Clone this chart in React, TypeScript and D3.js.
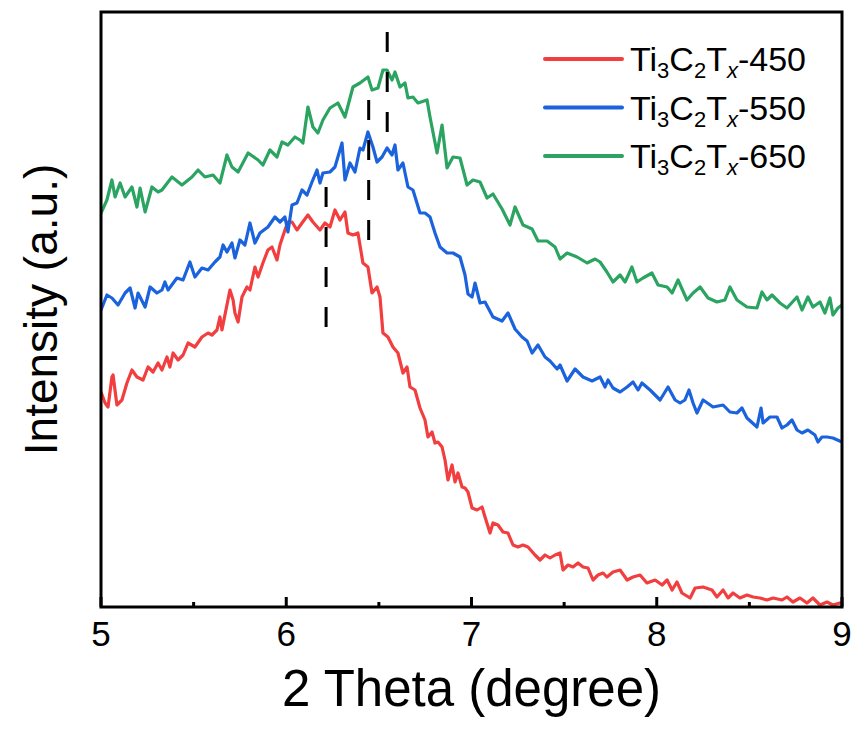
import React from 'react';
import * as d3 from 'd3';

const W = 853;
const H = 737;

const xTicks = [5, 6, 7, 8, 9];
const xMinorTicks = [5.5, 6.5, 7.5, 8.5];
const seriesLabels = ['450', '550', '650'];
const seriesColors = ['#f23e3e', '#1b63dc', '#2ba462'];
// [theta, intensity from, intensity to]
const peakLines: [number, number, number][] = [
  [6.215, 275, 420],
  [6.445, 362, 507],
  [6.545, 474, 575],
];

const s450: [number, number][] = [
  [5.0, 215], [5.022, 204], [5.038, 200], [5.059, 230], [5.065, 232], [5.086, 202], [5.113, 207],
  [5.14, 224], [5.167, 237], [5.194, 230], [5.227, 227], [5.254, 240], [5.281, 235], [5.308, 244],
  [5.329, 237], [5.356, 250], [5.372, 240], [5.389, 254], [5.416, 247], [5.443, 252], [5.47, 264],
  [5.507, 260], [5.545, 270], [5.578, 274], [5.599, 272], [5.626, 277], [5.642, 290], [5.653, 277],
  [5.669, 292], [5.696, 317], [5.713, 307], [5.723, 294], [5.74, 285], [5.761, 310], [5.788, 320],
  [5.804, 317], [5.831, 340], [5.848, 330], [5.874, 344], [5.901, 357], [5.923, 360], [5.95, 347],
  [5.966, 362], [5.993, 377], [6.009, 385], [6.031, 385], [6.058, 377], [6.085, 384], [6.117, 392],
  [6.144, 385], [6.182, 377], [6.209, 384], [6.236, 380], [6.263, 397], [6.29, 387], [6.317, 395],
  [6.333, 374], [6.36, 372], [6.387, 374], [6.414, 344], [6.441, 340], [6.463, 314], [6.49, 320],
  [6.506, 310], [6.522, 274], [6.549, 270], [6.576, 260], [6.603, 254], [6.63, 234], [6.652, 240],
  [6.668, 220], [6.695, 217], [6.722, 199], [6.749, 187], [6.765, 170], [6.787, 175], [6.803, 164],
  [6.819, 165], [6.841, 160], [6.857, 147], [6.873, 127], [6.895, 142], [6.911, 125], [6.927, 134],
  [6.949, 120], [6.965, 119], [6.981, 115], [7.003, 99], [7.03, 97], [7.057, 100], [7.073, 90],
  [7.1, 74], [7.116, 84], [7.143, 82], [7.17, 75], [7.197, 74], [7.224, 62], [7.251, 60],
  [7.278, 62], [7.305, 60], [7.343, 52], [7.37, 47], [7.397, 52], [7.424, 49], [7.451, 52],
  [7.478, 54], [7.494, 37], [7.521, 42], [7.548, 40], [7.575, 44], [7.602, 40], [7.629, 39],
  [7.656, 27], [7.683, 32], [7.71, 34], [7.731, 30], [7.764, 35], [7.802, 37], [7.84, 27],
  [7.872, 30], [7.91, 32], [7.947, 24], [7.991, 27], [8.029, 22], [8.056, 27], [8.083, 17],
  [8.109, 25], [8.136, 14], [8.18, 9], [8.207, 19], [8.25, 20], [8.298, 17], [8.325, 10],
  [8.358, 17], [8.385, 9], [8.412, 14], [8.449, 9], [8.487, 12], [8.52, 10], [8.557, 9],
  [8.595, 7], [8.628, 9], [8.676, 7], [8.703, 10], [8.735, 5], [8.773, 9], [8.811, 4],
  [8.843, 9], [8.881, 2], [8.919, 5], [8.951, 2], [8.989, 4],
];

const s550: [number, number][] = [
  [5.0, 297], [5.032, 312], [5.059, 309], [5.092, 302], [5.13, 314], [5.157, 319], [5.184, 299],
  [5.2, 314], [5.238, 300], [5.265, 320], [5.302, 314], [5.329, 317], [5.345, 325], [5.362, 317],
  [5.41, 329], [5.443, 327], [5.48, 345], [5.507, 330], [5.545, 339], [5.578, 337], [5.615, 345],
  [5.642, 350], [5.659, 362], [5.68, 355], [5.707, 364], [5.723, 349], [5.75, 367], [5.777, 362],
  [5.804, 384], [5.831, 364], [5.858, 374], [5.901, 380], [5.939, 390], [5.966, 385], [5.993, 390],
  [6.009, 375], [6.031, 402], [6.058, 404], [6.085, 417], [6.112, 412], [6.139, 425], [6.166, 437],
  [6.182, 424], [6.198, 434], [6.236, 435], [6.263, 440], [6.301, 464], [6.317, 427], [6.344, 444],
  [6.371, 435], [6.398, 459], [6.414, 457], [6.441, 475], [6.468, 460], [6.49, 445], [6.517, 450],
  [6.544, 459], [6.571, 452], [6.587, 462], [6.603, 437], [6.63, 444], [6.657, 420], [6.684, 417],
  [6.722, 394], [6.749, 394], [6.776, 390], [6.803, 374], [6.83, 360], [6.868, 354], [6.9, 354],
  [6.938, 350], [6.965, 332], [6.981, 313], [7.003, 310], [7.019, 324], [7.046, 304], [7.073, 305],
  [7.116, 290], [7.165, 286], [7.197, 294], [7.235, 278], [7.273, 270], [7.3, 266], [7.327, 254],
  [7.359, 262], [7.397, 250], [7.424, 246], [7.462, 238], [7.478, 242], [7.516, 226], [7.559, 238],
  [7.602, 230], [7.651, 226], [7.694, 230], [7.721, 220], [7.737, 227], [7.764, 219], [7.802, 215],
  [7.84, 220], [7.872, 225], [7.899, 217], [7.92, 224], [7.964, 217], [8.018, 207], [8.061, 220],
  [8.099, 207], [8.126, 204], [8.152, 207], [8.174, 217], [8.196, 204], [8.217, 194], [8.25, 207],
  [8.304, 200], [8.358, 202], [8.395, 195], [8.433, 194], [8.46, 199], [8.487, 189], [8.541, 180],
  [8.563, 199], [8.574, 184], [8.611, 190], [8.649, 190], [8.676, 179], [8.703, 182], [8.73, 187],
  [8.757, 177], [8.784, 174], [8.816, 177], [8.854, 172], [8.87, 165], [8.892, 170], [8.919, 170],
  [8.951, 169], [9.0, 165],
];

const s650: [number, number][] = [
  [5.0, 394], [5.032, 407], [5.059, 427], [5.076, 410], [5.103, 424], [5.13, 410], [5.167, 420],
  [5.194, 400], [5.211, 419], [5.238, 395], [5.275, 420], [5.308, 415], [5.329, 417], [5.383, 430],
  [5.437, 422], [5.491, 430], [5.524, 437], [5.561, 430], [5.605, 432], [5.642, 424], [5.68, 452],
  [5.707, 440], [5.74, 435], [5.794, 454], [5.848, 447], [5.874, 442], [5.912, 457], [5.95, 450],
  [5.977, 465], [6.009, 462], [6.047, 470], [6.074, 467], [6.09, 464], [6.117, 500], [6.144, 480],
  [6.171, 474], [6.198, 487], [6.236, 499], [6.279, 504], [6.317, 490], [6.36, 520], [6.398, 524],
  [6.441, 530], [6.463, 517], [6.495, 519], [6.522, 537], [6.544, 537], [6.571, 527], [6.587, 535],
  [6.614, 520], [6.641, 524], [6.657, 509], [6.684, 510], [6.711, 504], [6.76, 507], [6.776, 490],
  [6.814, 454], [6.841, 482], [6.868, 439], [6.9, 450], [6.938, 449], [6.976, 422], [7.008, 427],
  [7.046, 425], [7.084, 409], [7.116, 413], [7.165, 398], [7.208, 382], [7.235, 400], [7.278, 382],
  [7.327, 378], [7.359, 366], [7.408, 366], [7.451, 360], [7.478, 348], [7.516, 354], [7.57, 350],
  [7.624, 344], [7.667, 348], [7.694, 345], [7.731, 335], [7.764, 325], [7.802, 332], [7.829, 325],
  [7.866, 340], [7.893, 325], [7.926, 329], [7.974, 334], [8.007, 322], [8.056, 320], [8.083, 314],
  [8.115, 327], [8.163, 307], [8.196, 314], [8.234, 320], [8.277, 309], [8.325, 305], [8.368, 307],
  [8.395, 320], [8.433, 307], [8.487, 300], [8.541, 299], [8.568, 315], [8.595, 307], [8.622, 312],
  [8.665, 304], [8.703, 299], [8.757, 310], [8.784, 297], [8.816, 310], [8.843, 300], [8.881, 305],
  [8.908, 294], [8.935, 309], [8.951, 292], [8.978, 299], [9.0, 302],
];

const allSeries = [s450, s550, s650];

const FONT = "Arial, 'Liberation Sans', Helvetica, sans-serif";

export default function App() {
  const x = d3.scaleLinear().domain([5, 9]).range([101, 842]);
  const y = d3.scaleLinear().domain([0, 595]).range([607, 12]);
  const line = d3
    .line<[number, number]>()
    .x((d) => x(d[0]))
    .y((d) => y(d[1]));

  const [x0, x1] = x.range();
  const [yb, yt] = y.range();

  return (
    <svg
      width={W}
      height={H}
      viewBox={`0 0 ${W} ${H}`}
      style={{ position: 'absolute', left: 0, top: 0, background: '#fff' }}
      fontFamily={FONT}
    >
      <defs>
        <clipPath id="plotClip">
          <rect x={x0} y={yt} width={x1 - x0} height={yb - yt} />
        </clipPath>
      </defs>
      <g clipPath="url(#plotClip)">
        {allSeries.map((s, i) => (
          <path
            key={i}
            d={line(s) || ''}
            fill="none"
            stroke={seriesColors[i]}
            strokeWidth={3.2}
            strokeLinejoin="round"
            strokeLinecap="round"
          />
        ))}
      </g>
      {peakLines.map(([t, a, b], i) => (
        <line
          key={i}
          x1={x(t)}
          x2={x(t)}
          y1={y(b)}
          y2={y(a)}
          stroke="#000"
          strokeWidth={3}
          strokeDasharray="20 20"
        />
      ))}
      {/* frame */}
      <rect x={x0} y={yt} width={x1 - x0} height={yb - yt} fill="none" stroke="#000" strokeWidth={3} />
      {/* ticks */}
      {xTicks.map((t) => (
        <line key={'M' + t} x1={x(t)} x2={x(t)} y1={yb} y2={yb - 10} stroke="#000" strokeWidth={3} />
      ))}
      {xMinorTicks.map((t) => (
        <line key={'m' + t} x1={x(t)} x2={x(t)} y1={yb} y2={yb - 5} stroke="#000" strokeWidth={3} />
      ))}
      {xTicks.map((t) => (
        <text key={'l' + t} x={x(t)} y={646} fontSize={35} textAnchor="middle" fill="#000">
          {t}
        </text>
      ))}
      <text x={(x0 + x1) / 2} y={706} fontSize={51} textAnchor="middle" fill="#000">
        2 Theta (degree)
      </text>
      <text
        transform={`translate(57, ${(yb + yt) / 2}) rotate(-90)`}
        fontSize={46}
        textAnchor="middle"
        fill="#000"
      >
        Intensity (a.u.)
      </text>
      {/* legend */}
      {seriesLabels.map((lab, i) => {
        const ly = 59 + i * 48.5;
        return (
          <g key={lab}>
            <line x1={545} x2={622} y1={ly} y2={ly} stroke={seriesColors[i]} strokeWidth={4} strokeLinecap="round" />
            <text x={630} y={ly + 12} fontSize={34} fill="#000">
              Ti
              <tspan fontSize={22} dy={7}>3</tspan>
              <tspan dy={-7}>C</tspan>
              <tspan fontSize={22} dy={7}>2</tspan>
              <tspan dy={-7}>T</tspan>
              <tspan fontSize={22} dy={7} fontStyle="italic">x</tspan>
              <tspan dy={-7}>-{lab}</tspan>
            </text>
          </g>
        );
      })}
    </svg>
  );
}
